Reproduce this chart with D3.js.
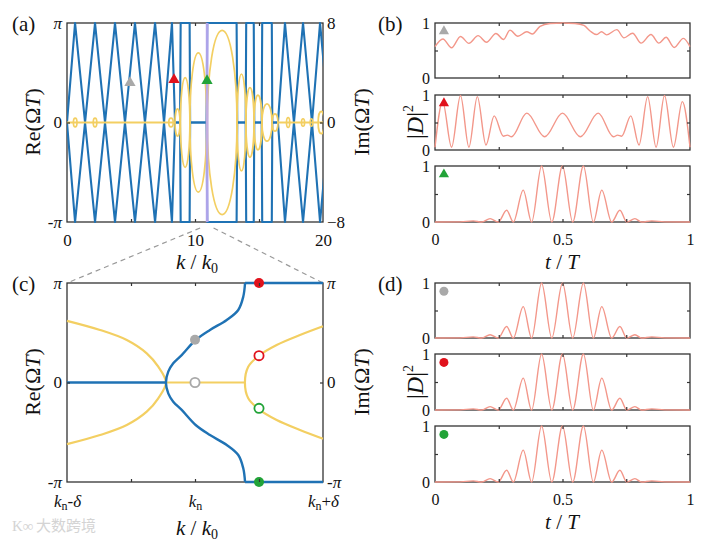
<!DOCTYPE html>
<html>
<head>
<meta charset="utf-8">
<script src="https://cdn.jsdelivr.net/npm/d3@7"></script>
<style>
  body { margin: 0; background: #fff; }
  svg text { font-family: "Liberation Serif", "Times New Roman", serif; fill: #111; }
</style>
</head>
<body>
<div id="chart"></div>
<script>
// ---- (a) upper folded branch of Re(OmegaT), units of pi (lower branch is its mirror)
var aK  = [0, 0.63, 1.41, 2.19, 2.97, 3.75, 4.53, 5.31, 6.09, 6.88, 7.58, 8.2, 8.44, 8.83, 8.88, 9.58, 9.62, 10.9,
           10.96, 13.25, 13.3, 13.96, 14.0, 14.59, 14.63, 15.21, 15.25, 16.0, 16.04, 16.48, 17.03, 17.73, 18.44, 19.14, 19.77, 20.47];
var aRe = [0, 1, 0, 1, 0, 1, 0, 1, 0, 1, 0, 1, 0, 0, 1, 1, 0, 0,
           1, 1, 0, 0, 1, 1, 0, 0, 1, 1, 0, 0, 1, 0, 1, 0, 1, 0];
// Im(OmegaT) bubbles: start k, end k, peak value
var bubK0 = [8.44, 8.86, 9.6, 10.96, 13.28, 13.98, 14.61, 15.23, 16.02, 0.5, 2.05, 7.95, 17.15, 18.32, 19.0, 19.62];
var bubK1 = [8.83, 9.6, 10.92, 13.28, 13.98, 14.61, 15.23, 16.02, 16.48, 0.78, 2.33, 8.3, 17.4, 18.56, 19.2, 20.1];
var bubIm = [1.1, 3.6, 5.6, 7.4, 3.9, 2.8, 2.2, 1.5, 0.7, 0.35, 0.35, 0.35, 0.4, 0.3, 0.3, 0.9];
var imFlatK0 = [0, 16.48], imFlatK1 = [8.44, 20];
var bandK = [10.84, 11.06];
var zoomK = [10.4, 11.45];
var triK = [4.92, 8.36, 10.94], triRe = [0.4, 0.43, 0.42];
var markCol = ["#a9a9a9", "#e0121c", "#22a338"];

// ---- (c) x in units of delta around k_n, y in units of pi (upper halves)
var cBlueS = [[-0.227, 0], [-0.209, 0.109], [-0.17, 0.193], [-0.104, 0.276], [0.005, 0.427], [0.117, 0.528],
              [0.248, 0.628], [0.338, 0.729], [0.377, 0.862], [0.391, 1]];
var cBlueFlat = [[[-1, 0], [-0.227, 0]], [[0.391, 1], [1, 1]], [[0.391, -1], [1, -1]]];
var cYelL = [[-1, 0.62], [-0.742, 0.528], [-0.533, 0.427], [-0.377, 0.293], [-0.287, 0.159], [-0.227, 0]];
var cYelR = [[0.39, 0], [0.416, 0.159], [0.5, 0.27], [0.638, 0.377], [0.82, 0.477], [1, 0.565]];
var cYelFlat = [[-0.227, 0], [0.39, 0]];
var cDotU = [0, 0, 0.5, 0.5, 0.5, 0.5];
var cDotV = [0.43, 0, 1, 0.27, -1, -0.26];
var cDotFill = [1, 0, 1, 0, 1, 0];
var cDotCol = [0, 0, 1, 1, 2, 2];

// ---- (b), (d) |D|^2 against t/T
var b1T = [0, 0.031, 0.065, 0.1, 0.133, 0.169, 0.202, 0.239, 0.269, 0.294, 0.325, 0.36, 0.382, 0.412, 0.451, 0.5,
           0.549, 0.584, 0.608, 0.633, 0.653, 0.673, 0.713, 0.741, 0.775, 0.808, 0.847, 0.878, 0.906, 0.938, 0.974, 1];
var b1V = [0.57, 0.71, 0.55, 0.755, 0.63, 0.77, 0.65, 0.81, 0.70, 0.87, 0.76, 0.84, 0.80, 0.94, 0.99, 1.0,
           0.99, 0.955, 0.855, 0.79, 0.84, 0.785, 0.88, 0.73, 0.815, 0.635, 0.79, 0.635, 0.74, 0.555, 0.72, 0.57];
var b2T = [0, 0.03, 0.065, 0.1, 0.133, 0.166, 0.2, 0.232, 0.268, 0.284, 0.3, 0.36, 0.43, 0.5,
           0.57, 0.64, 0.7, 0.716, 0.732, 0.768, 0.8, 0.834, 0.867, 0.9, 0.935, 0.97, 1];
var b2V = [0.05, 0.88, 0.05, 0.99, 0.05, 0.97, 0.09, 0.62, 0.25, 0.27, 0.24, 0.67, 0.24, 0.67,
           0.24, 0.67, 0.24, 0.27, 0.25, 0.62, 0.09, 0.97, 0.05, 0.99, 0.05, 0.88, 0.05];
var pulseT = [0, 0.1, 0.15, 0.183, 0.216, 0.248, 0.281, 0.307, 0.346, 0.379, 0.418, 0.458, 0.5,
              0.54, 0.582, 0.621, 0.654, 0.693, 0.725, 0.752, 0.784, 0.81, 0.85, 0.9, 1];
var pulseV = [0, 0.003, 0.02, 0, 0.06, 0, 0.21, 0, 0.57, 0, 1, 0, 1,
              0, 1, 0, 0.57, 0, 0.21, 0, 0.06, 0, 0.02, 0.003, 0];

var blue = "#1f72b4", yel = "#f3cf62", salmon = "#f3978a", frameCol = "#333";
var serif = '"Liberation Serif", "Times New Roman", serif';

var svg = d3.select("#chart").append("svg").attr("width", 707).attr("height", 541);
var defs = svg.append("defs");

function frame(g, x, y) {
  g.append("rect")
    .attr("x", x.range()[0]).attr("y", y.range()[1])
    .attr("width", x.range()[1] - x.range()[0]).attr("height", y.range()[0] - y.range()[1])
    .attr("fill", "none").attr("stroke", frameCol).attr("stroke-width", 1.3);
}

function marks(g, scale, orient, pos, vals) {
  var ax = {bottom: d3.axisBottom, top: d3.axisTop, left: d3.axisLeft, right: d3.axisRight}[orient](scale)
    .tickValues(vals).tickSize(-3).tickFormat("");
  var tr = (orient == "bottom" || orient == "top") ? "translate(0," + pos + ")" : "translate(" + pos + ",0)";
  var s = g.append("g").attr("transform", tr).call(ax);
  s.select(".domain").remove();
  s.selectAll("line").attr("stroke", frameCol).attr("stroke-width", 1.2);
}

function labels(g, scale, orient, pos, vals, size, pad) {
  var ax = {bottom: d3.axisBottom, top: d3.axisTop, left: d3.axisLeft, right: d3.axisRight}[orient](scale)
    .tickValues(vals).tickSize(0).tickPadding(pad).tickFormat(d3.format("~g"));
  var tr = (orient == "bottom" || orient == "top") ? "translate(0," + pos + ")" : "translate(" + pos + ",0)";
  var s = g.append("g").attr("transform", tr).call(ax)
    .attr("font-family", serif).attr("font-size", size);
  s.select(".domain").remove();
  return s.selectAll(".tick text").attr("fill", "#111");
}

function piFmt(d) {
  var t = d3.select(this).text(null);
  if (d == 0) { t.text("0"); return; }
  if (d < 0) t.append("tspan").text("-");
  t.append("tspan").attr("font-style", "italic").text("\u03c0");
}

function rotLabel(x, y, parts, size) {
  var t = svg.append("text").attr("transform", "translate(" + x + "," + y + ") rotate(-90)")
    .attr("text-anchor", "middle").attr("font-size", size);
  parts.forEach(function(p) {
    var s = t.append("tspan").text(p[0]);
    if (p[1]) s.attr("font-style", "italic");
    if (p[2]) s.attr("font-size", p[2]).attr("dy", p[3]);
  });
  return t;
}

function kLabel(x, y) {
  var t = svg.append("text").attr("x", x).attr("y", y).attr("text-anchor", "middle").attr("font-size", 21);
  t.append("tspan").attr("font-style", "italic").text("k");
  t.append("tspan").text(" /");
  t.append("tspan").attr("font-style", "italic").text(" k");
  t.append("tspan").attr("font-size", 14).attr("dy", 4).text("0");
}

function tLabel(x, y) {
  var t = svg.append("text").attr("x", x).attr("y", y).attr("text-anchor", "middle").attr("font-size", 21);
  t.append("tspan").attr("font-style", "italic").text("t");
  t.append("tspan").text(" / ");
  t.append("tspan").attr("font-style", "italic").text("T");
}

function panelTag(x, y, s) {
  svg.append("text").attr("x", x).attr("y", y).attr("font-size", 21).text(s);
}

// ================= panel (a) =================
var xa = d3.scaleLinear().domain([0, 20]).range([67, 323]);
var ya = d3.scaleLinear().domain([-1, 1]).range([222, 23]);
var yaIm = d3.scaleLinear().domain([-8, 8]).range([222, 23]);

defs.append("clipPath").attr("id", "clipA").append("rect")
  .attr("x", 67).attr("y", 20).attr("width", 256).attr("height", 205);

var ga = svg.append("g");
frame(ga, xa, ya);
var pa = ga.append("g").attr("clip-path", "url(#clipA)");

var lineA = d3.line().x(function(d) { return xa(d[0]); }).y(function(d) { return ya(d[1]); });
var upper = aK.map(function(k, i) { return [k, aRe[i]]; });
var lower = aK.map(function(k, i) { return [k, -aRe[i]]; });
pa.selectAll(".re").data([upper, lower]).join("path").attr("class", "re")
  .attr("d", lineA).attr("fill", "none").attr("stroke", blue)
  .attr("stroke-width", 2.1).attr("stroke-linejoin", "round");

pa.selectAll(".imflat").data(imFlatK0).join("line").attr("class", "imflat")
  .attr("x1", function(d) { return xa(d); })
  .attr("x2", function(d, i) { return xa(imFlatK1[i]); })
  .attr("y1", yaIm(0)).attr("y2", yaIm(0))
  .attr("stroke", yel).attr("stroke-width", 2);

pa.selectAll(".bub").data(bubK0).join("ellipse").attr("class", "bub")
  .attr("cx", function(d, i) { return xa((d + bubK1[i]) / 2); })
  .attr("rx", function(d, i) { return (xa(bubK1[i]) - xa(d)) / 2; })
  .attr("cy", yaIm(0))
  .attr("ry", function(d, i) { return yaIm(0) - yaIm(bubIm[i]); })
  .attr("fill", "none").attr("stroke", yel).attr("stroke-width", 1.7);

pa.append("rect")
  .attr("x", xa(bandK[0])).attr("width", xa(bandK[1]) - xa(bandK[0]))
  .attr("y", ya(1)).attr("height", ya(-1) - ya(1))
  .attr("fill", "#bba8ee").attr("opacity", 0.9);

ga.selectAll(".tri").data(triK).join("path").attr("class", "tri")
  .attr("d", d3.symbol().type(d3.symbolTriangle).size(55))
  .attr("transform", function(d, i) { return "translate(" + xa(d) + "," + ya(triRe[i]) + ")"; })
  .attr("fill", function(d, i) { return markCol[i]; });

marks(ga, xa, "bottom", 222, [5, 10, 15]);
marks(ga, xa, "top", 23, [5, 10, 15]);
marks(ga, ya, "left", 67, [0]);
marks(ga, ya, "right", 323, [0]);
labels(ga, xa, "bottom", 222, [0, 10, 20], 17, 12);
labels(ga, ya, "left", 67, [-1, 0, 1], 17, 5).each(piFmt);
labels(ga, yaIm, "right", 323, [-8, 0, 8], 17, 4);

kLabel(197, 269);
rotLabel(40, 122, [["Re(\u03a9"], ["T", 1], [")"]], 22);
rotLabel(369, 122, [["Im(\u03a9"], ["T", 1], [")"]], 22);
panelTag(12, 31, "(a)");

// zoom connectors
var xc = d3.scaleLinear().domain([-1, 1]).range([67, 323]);
var yc = d3.scaleLinear().domain([-1, 1]).range([482, 283]);
svg.selectAll(".conn").data([0, 1]).join("line").attr("class", "conn")
  .attr("x1", function(i) { return xa(zoomK[i]); }).attr("y1", 228)
  .attr("x2", function(i) { return xc(i ? 1 : -1); }).attr("y2", yc(1))
  .attr("stroke", "#999").attr("stroke-width", 1.2).attr("stroke-dasharray", "5,4");

// ================= panel (c) =================
var gc = svg.append("g");
frame(gc, xc, yc);
var mirror = function(p) { return [p[0], -p[1]]; };
var curveC = d3.line().x(function(d) { return xc(d[0]); }).y(function(d) { return yc(d[1]); })
  .curve(d3.curveCatmullRom.alpha(0.5));
var flatC = d3.line().x(function(d) { return xc(d[0]); }).y(function(d) { return yc(d[1]); });

var yelL = cYelL.concat(cYelL.slice(0, -1).reverse().map(mirror));
var yelR = cYelR.slice(1).reverse().map(mirror).concat(cYelR);
gc.selectAll(".yc").data([yelL, yelR]).join("path").attr("class", "yc")
  .attr("d", curveC).attr("fill", "none").attr("stroke", yel).attr("stroke-width", 2.2);
gc.append("path").attr("d", flatC(cYelFlat)).attr("fill", "none").attr("stroke", yel).attr("stroke-width", 2.2);

var blueS = cBlueS.slice(1).reverse().map(mirror).concat(cBlueS);
gc.append("path").attr("d", curveC(blueS)).attr("fill", "none").attr("stroke", blue).attr("stroke-width", 2.4);
gc.selectAll(".bf").data(cBlueFlat).join("path").attr("class", "bf")
  .attr("d", flatC).attr("fill", "none").attr("stroke", blue).attr("stroke-width", 2.4);

gc.selectAll(".cdot").data(cDotU).join("circle").attr("class", "cdot")
  .attr("cx", function(d) { return xc(d); })
  .attr("cy", function(d, i) { return yc(cDotV[i]); })
  .attr("r", function(d, i) { return cDotFill[i] ? 5 : 4.6; })
  .attr("fill", function(d, i) { return cDotFill[i] ? markCol[cDotCol[i]] : "#fff"; })
  .attr("stroke", function(d, i) { return markCol[cDotCol[i]]; })
  .attr("stroke-width", function(d, i) { return cDotFill[i] ? 0 : 1.8; });

marks(gc, xc, "bottom", 482, [-0.5, 0, 0.5]);
marks(gc, xc, "top", 283, [-0.5, 0, 0.5]);
marks(gc, yc, "left", 67, [0]);
marks(gc, yc, "right", 323, [0]);
labels(gc, yc, "left", 67, [-1, 0, 1], 17, 5).each(piFmt);
labels(gc, yc, "right", 323, [-1, 0, 1], 17, 4).each(piFmt);
labels(gc, xc, "bottom", 482, [-1, 0, 1], 17, 13).each(function(d) {
  var t = d3.select(this).text(null);
  t.append("tspan").attr("font-style", "italic").text("k");
  t.append("tspan").attr("font-size", 12).attr("dy", 3).text("n");
  if (d != 0) {
    t.append("tspan").attr("dy", -3).text(d < 0 ? "-" : "+");
    t.append("tspan").attr("font-style", "italic").text("\u03b4");
  }
});
kLabel(197, 535);
rotLabel(40, 382, [["Re(\u03a9"], ["T", 1], [")"]], 22);
rotLabel(369, 382, [["Im(\u03a9"], ["T", 1], [")"]], 22);
panelTag(12, 291, "(c)");

// ================= panels (b) and (d) =================
var xt = d3.scaleLinear().domain([0, 1]).range([435, 690]);
var bRows = [[23, 78], [95, 150], [166, 222]];
var dRows = [[283, 338], [354, 410], [426, 482]];
var bSeries = [[b1T, b1V], [b2T, b2V], [pulseT, pulseV]];
var dSeries = [[pulseT, pulseV], [pulseT, pulseV], [pulseT, pulseV]];
var markT = 0.035, markV = 0.85;

function stack(rows, series, sym, tickPad, tLabelY) {
  rows.forEach(function(r, i) {
    var g = svg.append("g");
    var y = d3.scaleLinear().domain([0, 1]).range([r[1], r[0]]);
    frame(g, xt, y);
    var pts = series[i][0].map(function(t, j) { return [t, series[i][1][j]]; });
    g.append("path")
      .attr("d", d3.line().x(function(d) { return xt(d[0]); }).y(function(d) { return y(d[1]); })
        .curve(d3.curveMonotoneX)(pts))
      .attr("fill", "none").attr("stroke", salmon).attr("stroke-width", 1.4);
    if (sym == "tri") {
      g.append("path").attr("d", d3.symbol().type(d3.symbolTriangle).size(45))
        .attr("transform", "translate(" + xt(markT) + "," + y(markV) + ")").attr("fill", markCol[i]);
    } else {
      g.append("circle").attr("cx", xt(markT)).attr("cy", y(markV)).attr("r", 4.5).attr("fill", markCol[i]);
    }
    marks(g, xt, "bottom", r[1], [0.25, 0.5, 0.75]);
    marks(g, xt, "top", r[0], [0.25, 0.5, 0.75]);
    marks(g, y, "left", 435, [0.5]);
    marks(g, y, "right", 690, [0.5]);
    labels(g, y, "left", 435, [0, 1], 16, 5);
    if (i == rows.length - 1) labels(g, xt, "bottom", r[1], [0, 0.5, 1], 16, tickPad);
  });
  tLabel(562, tLabelY);
}

stack(bRows, bSeries, "tri", 12, 269);
stack(dRows, dSeries, "dot", 12, 529);
rotLabel(423, 122, [["|"], ["D", 1], ["|"], ["2", 0, 14, -10]], 24);
rotLabel(423, 382, [["|"], ["D", 1], ["|"], ["2", 0, 14, -10]], 24);
panelTag(378, 31, "(b)");
panelTag(378, 291, "(d)");

// watermark
svg.append("text").attr("x", 36).attr("y", 531).attr("font-size", 15)
  .style("font-family", "'Noto Sans CJK SC', sans-serif").style("fill", "#d4d4d4").text("\u5927\u6570\u8de8\u5883");
svg.append("text").attr("x", 12).attr("y", 531).attr("font-size", 15)
  .style("fill", "#d4d4d4").text("K\u221e");
</script>
</body>
</html>
